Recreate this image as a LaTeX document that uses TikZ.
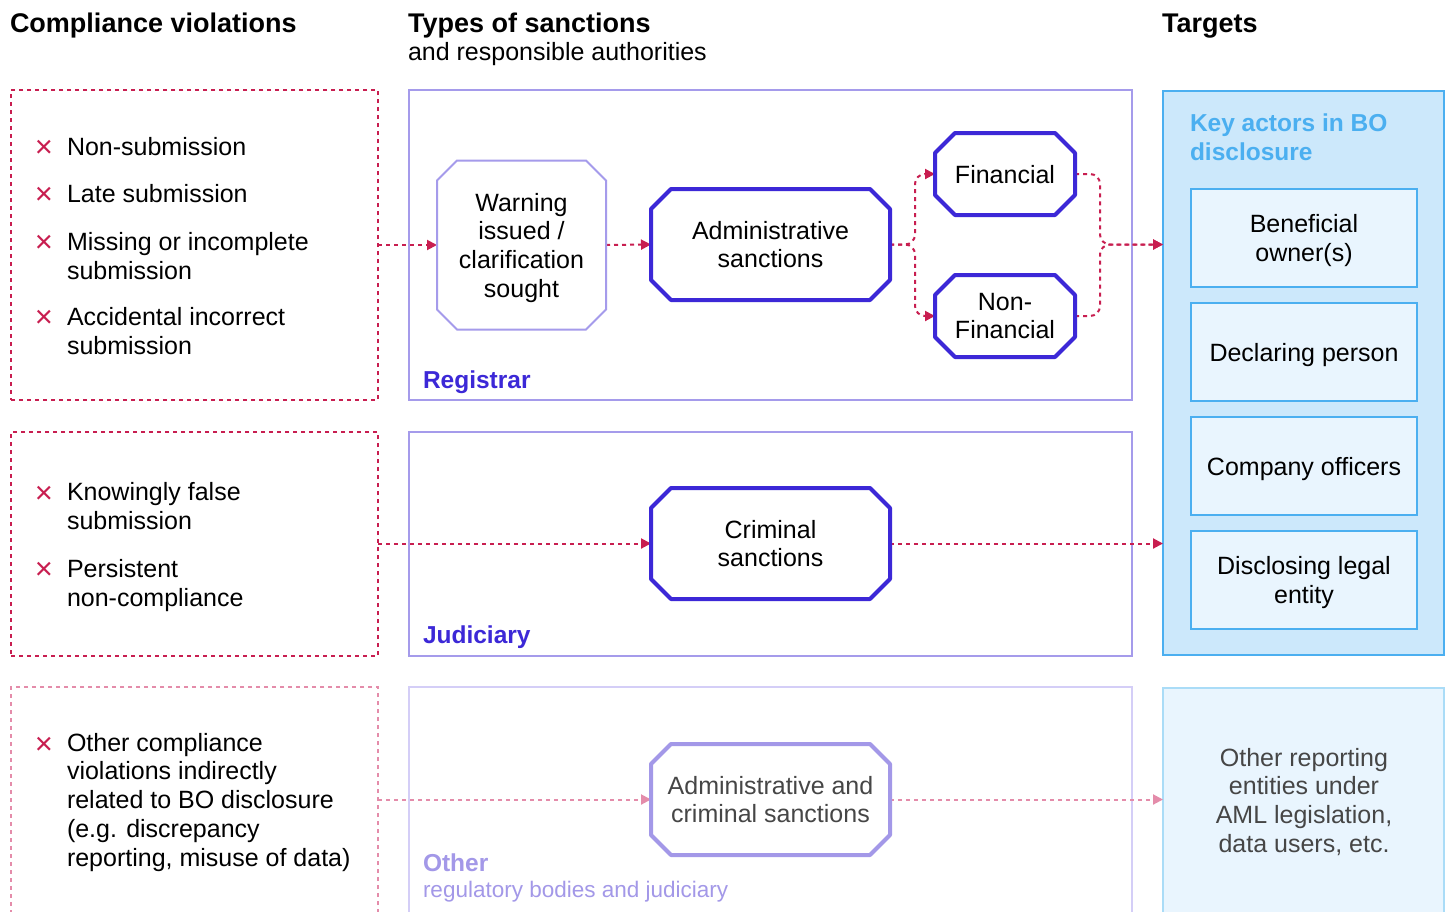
\documentclass[tikz,border=0pt]{standalone}
\usepackage{fontspec}
\setmainfont{Liberation Sans}
\usetikzlibrary{arrows.meta}
\definecolor{crim}{RGB}{200,30,80}
\definecolor{pinkl}{RGB}{228,140,170}
\definecolor{purl}{RGB}{165,155,235}
\definecolor{purll}{RGB}{212,206,247}
\definecolor{purm}{RGB}{163,152,232}
\definecolor{dblue}{RGB}{60,40,215}
\definecolor{skyb}{RGB}{75,175,240}
\definecolor{skyf}{RGB}{204,232,251}
\definecolor{skyff}{RGB}{233,245,254}
\definecolor{skyl}{RGB}{170,220,247}
\definecolor{grtxt}{RGB}{70,70,70}
\newcommand\bodyf{\fontsize{25}{28.7}\selectfont}
\newcommand\headf{\fontsize{27}{30}\selectfont\bfseries}
\newcommand\labf{\fontsize{24.5}{29}\selectfont\bfseries}
\newcommand\octbox[3]{%
 \draw[#2] ([xshift=#3]#1.north west) -- ([xshift=-#3]#1.north east) -- ([yshift=-#3]#1.north east) -- ([yshift=#3]#1.south east) -- ([xshift=-#3]#1.south east) -- ([xshift=#3]#1.south west) -- ([yshift=#3]#1.south west) -- ([yshift=-#3]#1.north west) -- cycle;}
\begin{document}
\begin{tikzpicture}[x=1pt,y=-1pt,
  every node/.style={inner sep=0pt, outer sep=0pt},
  head/.style={anchor=base west, font=\headf},
  item/.style={anchor=base west, align=left, font=\bodyf},
  xmark/.style={anchor=center, text=crim, font=\fontsize{31}{31}\selectfont},
  lbox/.style={draw=crim, line width=2pt, dash pattern=on 4pt off 4pt},
  lboxl/.style={draw=pinkl, line width=2pt, dash pattern=on 4pt off 4pt},
  mbox/.style={draw=purl, line width=2pt},
  mboxl/.style={draw=purll, line width=2pt},
  octn/.style={align=center, font=\bodyf, text depth=0pt},
  con/.style={draw=crim, line width=2pt, dash pattern=on 4pt off 4pt, -{Triangle[length=10pt,width=10pt]}},
  conl/.style={draw=pinkl, line width=2pt, dash pattern=on 4pt off 4pt, -{Triangle[length=10pt,width=10pt]}},
  tbox/.style={draw=skyb, fill=skyff, line width=2pt, minimum width=226pt, minimum height=98pt, align=center, font=\bodyf, text depth=0pt},
]
\clip (0,0) rectangle (1454,911);
\fill[white] (0,0) rectangle (1454,911);
% headings
\node[head] (h1) at (10,32) {Compliance violations};
\node[head] (h2) at (408,32) {Types of sanctions};
\node[anchor=base west, font=\bodyf] (h2b) at (408,60) {and responsible authorities};
\node[head] (h3) at (1162,32) {Targets};
% frames
\node[lbox, minimum width=367pt, minimum height=310pt] (L1) at (194.5,245) {};
\node[lbox, minimum width=367pt, minimum height=224pt] (L2) at (194.5,544) {};
\node[lboxl, minimum width=367pt, minimum height=243pt] (L3) at (194.5,808.5) {};
\node[mbox, minimum width=723pt, minimum height=310pt] (M1) at (770.5,245) {};
\node[mbox, minimum width=723pt, minimum height=224pt] (M2) at (770.5,544) {};
\node[mboxl, minimum width=723pt, minimum height=243pt] (M3) at (770.5,808.5) {};
\node[draw=skyb, fill=skyf, line width=2pt, minimum width=281pt, minimum height=564pt] (K) at (1303.5,373) {};
\node[draw=skyl, fill=skyff, line width=2pt, minimum width=281pt, minimum height=242pt] (KO) at (1303.5,809) {};
% left items (base anchor = last line)
\node[xmark] (x1) at (44,149) {×};
\node[item] (i1) at (67,155) {Non-submission};
\node[xmark] (x2) at (44,196) {×};
\node[item] (i2) at (67,202) {Late submission};
\node[xmark] (x3) at (44,244) {×};
\node[item] (i3) at (67,279) {Missing or incomplete\\submission};
\node[xmark] (x4) at (44,319) {×};
\node[item] (i4) at (67,354) {Accidental incorrect\\submission};
\node[xmark] (x5) at (44,495) {×};
\node[item] (i5) at (67,529) {Knowingly false\\submission};
\node[xmark] (x6) at (44,571) {×};
\node[item] (i6) at (67,606) {Persistent\\non-compliance};
\node[xmark] (x7) at (44,746) {×};
\node[item] (i7) at (67,866) {Other compliance\\violations indirectly\\related to BO disclosure\\(e.g. discrepancy\\reporting, misuse of data)};
% authority labels
\node[anchor=base west, font=\labf, text=dblue] (reg) at (423,388) {Registrar};
\node[anchor=base west, font=\labf, text=dblue] (jud) at (423,643) {Judiciary};
\node[anchor=base west, font=\labf, text=purm] (oth1) at (423,871) {Other};
\node[anchor=base west, font=\fontsize{22.5}{26}\selectfont, text=purm] (oth2) at (423,897) {regulatory bodies and judiciary};
% sanction nodes
\node[octn, minimum width=169pt, minimum height=169pt] (warn) at (521.5,245) {Warning\\issued /\\clarification\\sought};
\node[octn, minimum width=239pt, minimum height=111pt] (adm) at (770.5,244.5) {Administrative\\sanctions};
\node[octn, minimum width=140pt, minimum height=82pt] (fin) at (1005,174) {Financial};
\node[octn, minimum width=140pt, minimum height=82pt] (nfin) at (1005,316) {Non-\\Financial};
\node[octn, minimum width=239pt, minimum height=111pt] (crs) at (770.5,543.5) {Criminal\\sanctions};
\node[octn, minimum width=239pt, minimum height=111pt, text=grtxt] (acs) at (770.5,799.5) {Administrative and\\criminal sanctions};
% connectors
\draw[con] (L1.east |- warn.west) -- (warn.west);
\draw[con] (warn.east) -- (adm.west);
\draw[con, rounded corners=10pt] (adm.east) -| ([xshift=-20pt]fin.west) -- (fin.west);
\draw[con, rounded corners=10pt] (adm.east) -| ([xshift=-20pt]nfin.west) -- (nfin.west);
\draw[con, rounded corners=10pt] (fin.east) -| ([xshift=25pt]fin.east |- adm.east) -- (K.west |- adm.east);
\draw[con, rounded corners=10pt] (nfin.east) -| ([xshift=25pt]nfin.east |- adm.east) -- (K.west |- adm.east);
\draw[con] (L2.east |- crs.west) -- (crs.west);
\draw[con] (crs.east) -- (K.west |- crs.east);
\draw[conl] (L3.east |- acs.west) -- (acs.west);
\draw[conl] (acs.east) -- (KO.west |- acs.east);
% octagon outlines
\octbox{warn}{draw=purl, line width=2pt}{20pt}
\octbox{adm}{draw=dblue, line width=4pt, line join=round}{20pt}
\octbox{fin}{draw=dblue, line width=4pt, line join=round}{20pt}
\octbox{nfin}{draw=dblue, line width=4pt, line join=round}{20pt}
\octbox{crs}{draw=dblue, line width=4pt, line join=round}{20pt}
\octbox{acs}{draw=purm, line width=4pt, line join=round}{20pt}
% targets
\node[anchor=base west, align=left, font=\labf, text=skyb] (kt) at (1190,160) {Key actors in BO\\disclosure};
\node[tbox] (t1) at (1304,238) {Beneficial\\owner(s)};
\node[tbox] (t2) at (1304,352) {Declaring person};
\node[tbox] (t3) at (1304,466) {Company officers};
\node[tbox] (t4) at (1304,580) {Disclosing legal\\entity};
\node[align=center, font=\bodyf, text=grtxt, text depth=0pt] (ot) at (1304,800) {Other reporting\\entities under\\AML legislation,\\data users, etc.};
\end{tikzpicture}
\end{document}
